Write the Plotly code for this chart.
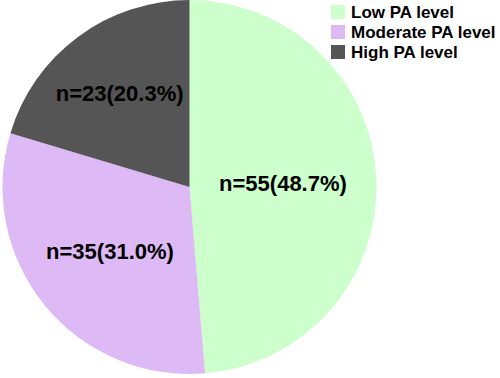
import plotly.graph_objects as go

categories = ["Low PA level", "Moderate PA level", "High PA level"]
counts = [55, 35, 23]
percent_labels = ["48.7%", "31.0%", "20.3%"]
colors = ["#CCFFCC", "#DDB9F5", "#555555"]

fig = go.Figure(go.Pie(
    labels=categories,
    values=counts,
    customdata=percent_labels,
    texttemplate="n=%{value}(%{customdata})",
    textposition="inside",
    insidetextorientation="horizontal",
    textfont=dict(family="Liberation Sans, Arial", size=22, color="black", weight="bold"),
    marker=dict(colors=colors, line=dict(width=0)),
    sort=False,
    direction="clockwise",
    rotation=0,
    domain=dict(x=[0.004, 0.754], y=[0.0106, 1.0]),
    hoverinfo="skip",
    showlegend=False,
))

# Custom legend (squares + labels) built from the category/colour lists
W, H = 500, 378
sq_x0, sq_size, row0, row_gap, text_x = 331, 14, 12, 20, 349
shapes, annotations = [], []
for i, (cat, col) in enumerate(zip(categories, colors)):
    yc = row0 + i * row_gap
    shapes.append(dict(
        type="rect", xref="paper", yref="paper",
        x0=sq_x0 / W, x1=(sq_x0 + sq_size) / W,
        y0=1 - (yc + sq_size / 2) / H, y1=1 - (yc - sq_size / 2) / H,
        fillcolor=col, line=dict(width=0),
    ))
    annotations.append(dict(
        xref="paper", yref="paper", x=text_x / W, y=1 - yc / H,
        xanchor="left", yanchor="middle", showarrow=False, text=cat,
        font=dict(family="Liberation Sans, Arial", size=17, color="black", weight="bold"),
    ))

fig.update_layout(
    width=W, height=H,
    margin=dict(l=0, r=0, t=0, b=0),
    paper_bgcolor="white",
    plot_bgcolor="white",
    showlegend=False,
    shapes=shapes,
    annotations=annotations,
)

fig.write_html("out.html", config={"displayModeBar": False},
               post_script="document.body.style.margin='0';")
